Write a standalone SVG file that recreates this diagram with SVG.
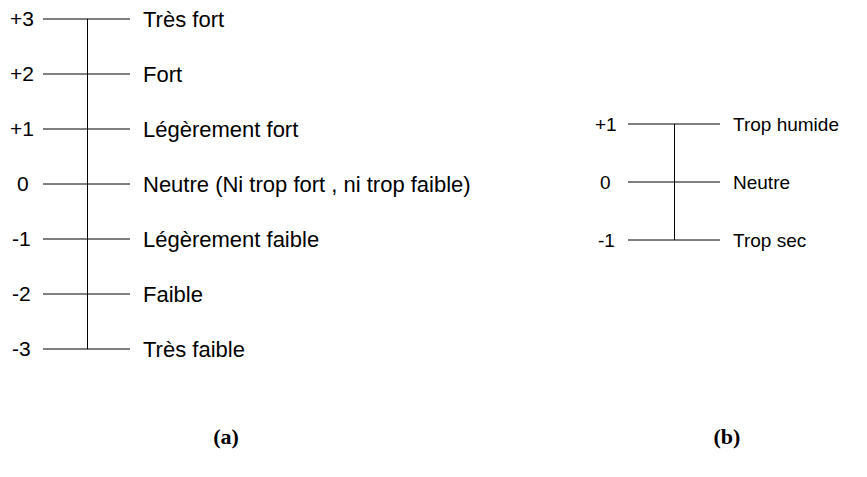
<svg xmlns="http://www.w3.org/2000/svg" width="867" height="477" viewBox="0 0 867 477">
<style>
.t{font-family:"Liberation Sans",Arial,sans-serif;font-size:22px;fill:#000}
.r{font-family:"Liberation Sans",Arial,sans-serif;font-size:19px;fill:#000}
.n{font-family:"Liberation Sans",Arial,sans-serif;font-size:21px;fill:#000}
.m{font-family:"Liberation Sans",Arial,sans-serif;font-size:19px;fill:#000}
.c{font-family:"Liberation Serif","Times New Roman",serif;font-size:22px;font-weight:bold;fill:#000}
.l{stroke:#000;stroke-width:1;fill:none}
</style>
<rect width="867" height="477" fill="#fff"/>
<g id="connectors">
<path class="l" d="M87.5 19V349"/>
<path class="l" d="M43 19H130M43 74H130M43 129H130M43 184H130M43 239H130M43 294H130M43 349H130"/>
<path class="l" d="M674.5 124V240"/>
<path class="l" d="M628 124H720M628 182H720M628 240H720"/>
</g>
<g id="scale-a">
<text class="n" x="10" y="26">+3</text>
<text class="n" x="10" y="81">+2</text>
<text class="n" x="10" y="136">+1</text>
<text class="n" x="17" y="191">0</text>
<text class="n" x="12" y="246">-1</text>
<text class="n" x="12" y="301">-2</text>
<text class="n" x="12" y="356">-3</text>
<text class="t" x="143" y="27">Très fort</text>
<text class="t" x="143" y="82">Fort</text>
<text class="t" x="143" y="137">Légèrement fort</text>
<text class="t" x="143" y="192">Neutre (Ni trop fort , ni trop faible)</text>
<text class="t" x="143" y="247">Légèrement faible</text>
<text class="t" x="143" y="302">Faible</text>
<text class="t" x="143" y="357">Très faible</text>
</g>
<g id="scale-b">
<text class="m" x="595" y="131">+1</text>
<text class="m" x="600" y="189">0</text>
<text class="m" x="598" y="247">-1</text>
<text class="r" x="733" y="131">Trop humide</text>
<text class="r" x="733" y="189">Neutre</text>
<text class="r" x="733" y="247">Trop sec</text>
</g>
<text class="c" x="226" y="444" text-anchor="middle">(a)</text>
<text class="c" x="727" y="444" text-anchor="middle">(b)</text>
</svg>
